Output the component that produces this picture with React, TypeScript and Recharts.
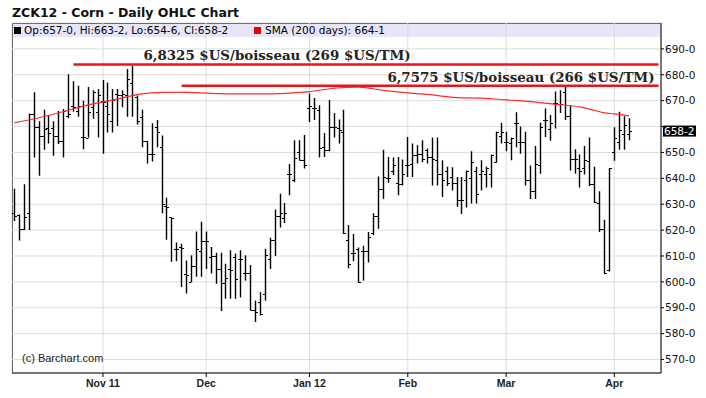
import React from 'react';
import { ComposedChart, Bar, Line, XAxis, YAxis, CartesianGrid, ReferenceLine } from 'recharts';

const SANS = '"Liberation Sans", Arial, sans-serif';
const WIDE = '"DejaVu Sans", Verdana, sans-serif';
const SERIF = '"DejaVu Serif", "Liberation Serif", serif';

// trading days shown on the axis (last six are empty days to the right edge)
const octDays = [6, 7, 10, 11, 12, 13, 14, 17, 18, 19, 20, 21, 24, 25, 26, 27, 28, 31];
const novDays = [1, 2, 3, 4, 7, 8, 9, 10, 11, 14, 15, 16, 17, 18, 21, 22, 23, 25, 28, 29, 30];
const decDays = [1, 2, 5, 6, 7, 8, 9, 12, 13, 14, 15, 16, 19, 20, 21, 22, 23, 27, 28, 29, 30];
const janDays = [3, 4, 5, 6, 9, 10, 11, 12, 13, 17, 18, 19, 20, 23, 24, 25, 26, 27, 30, 31];
const febDays = [1, 2, 3, 6, 7, 8, 9, 10, 13, 14, 15, 16, 17, 21, 22, 23, 24, 27, 28, 29];
const marDays = [1, 2, 5, 6, 7, 8, 9, 12, 13, 14, 15, 16, 19, 20, 21, 22, 23, 26, 27, 28, 29, 30];
const aprDays = [2, 3, 4, 5, 9, 10, 11, 12, 13, 16];

const pad = (n: number) => (n < 10 ? '0' + n : '' + n);
const dates: string[] = [
  ...octDays.map((d) => `2011-10-${pad(d)}`),
  ...novDays.map((d) => `2011-11-${pad(d)}`),
  ...decDays.map((d) => `2011-12-${pad(d)}`),
  ...janDays.map((d) => `2012-01-${pad(d)}`),
  ...febDays.map((d) => `2012-02-${pad(d)}`),
  ...marDays.map((d) => `2012-03-${pad(d)}`),
  ...aprDays.map((d) => `2012-04-${pad(d)}`),
];

const monthTicks = ['2011-11-01', '2011-12-01', '2012-01-03', '2012-02-01', '2012-03-01', '2012-04-02'];
const monthLabels = ['Nov 11', 'Dec', 'Jan 12', 'Feb', 'Mar', 'Apr'];
const yTicks = [570, 580, 590, 600, 610, 620, 630, 640, 650, 660, 670, 680, 690];

const opens = [626.75, 626, 620.25, 626.75, 665, 660, 656.5, 659.5, 659.5, 656.5,
  654.5, 664.25, 667.75, 666, 656, 655.75, 667.5, 665.5, 670, 668,
  662.25, 672.5, 672, 672, 677, 671.5, 663.5, 654.5, 649.5, 660,
  652, 629.25, 625, 612.75, 613.5, 603, 600, 606, 611.75, 615.75,
  609.5, 610, 605, 599.75, 605, 609.5, 609, 603.25, 603.25, 589.25,
  592.25, 595.5, 609, 616, 625.5, 624.75, 641.5, 639.5, 650, 647,
  667, 667, 666.5, 652, 651, 660, 659.25, 658, 616, 611,
  612.75, 612, 612, 618.75, 625.5, 636, 640.25, 643, 638.25, 638,
  645, 645.5, 649, 649.25, 651, 648.25, 647.25, 641.75, 643, 640.5,
  638.25, 631.5, 639.5, 640, 643, 641.5, 641.5, 641.5, 646.25, 656.25,
  654, 653.75, 661.25, 654, 654, 639.25, 635.25, 645, 662.5, 659,
  669.25, 668.75, 673.5, 664, 647.5, 644, 644, 646.75, 638, 630.5,
  620.5, 604.5, 650.25, 654, 657.25, 657];

const highs = [636, 626, 637.75, 665, 673.25, 662, 666.5, 664.5, 662, 666,
  666.75, 680.25, 677.5, 675.75, 670, 675.25, 674, 674.5, 678, 677,
  674.5, 674.5, 674, 682.25, 683.5, 672, 666.5, 654.5, 661.25, 662.5,
  656.5, 632.5, 625, 615.25, 614.75, 608.25, 610.25, 619.5, 623.25, 619.5,
  613.5, 611.25, 611.25, 607, 612.25, 611, 612.25, 610.25, 606.5, 592.75,
  596, 612.75, 617, 628, 634, 630.5, 645.5, 654.75, 654.75, 656.75,
  672.75, 671, 668.25, 657.5, 670.25, 665.25, 662.75, 666.5, 622, 618.5,
  613.25, 614, 619.25, 626.5, 640.75, 651, 648.25, 648, 648.25, 647.25,
  656, 653.5, 652.75, 654.75, 651.5, 655.75, 655.75, 647, 644.5, 644.25,
  640.5, 640.5, 643, 650.5, 644.5, 647, 644.5, 649.25, 658, 661.5,
  658, 655.75, 665.5, 660, 658, 645, 652.5, 661.5, 667, 664.5,
  673.5, 674, 675.75, 668.25, 651.25, 649.25, 652.5, 655.75, 644.5, 635,
  624, 644, 659.75, 665.75, 664, 663.25];

const lows = [623.5, 616, 620, 620, 648, 641, 651, 653.5, 648.75, 653.25,
  648, 663.25, 665.75, 663.75, 651.25, 655.75, 663, 655.75, 649.5, 657.75,
  657.75, 660.25, 667.5, 663.75, 663.75, 660.75, 652, 645.75, 646.5, 652,
  626.5, 616.25, 607.75, 608, 598, 595.5, 600, 602, 602, 605,
  603.25, 599.25, 588.75, 593.5, 593.5, 593.5, 594, 600.5, 589, 584.5,
  587, 592.75, 605, 610, 621, 622.75, 633.5, 638.5, 647, 643.75,
  661.75, 662.5, 648, 648.25, 650.5, 655.75, 653.5, 618.5, 605.25, 608,
  599.75, 600.5, 607.5, 618, 620.5, 632, 638.25, 641.25, 633.5, 637.25,
  640.5, 640.5, 645.75, 646.25, 645.75, 637.25, 637.25, 632.75, 637, 635.25,
  629, 626.25, 628.75, 630.25, 630.25, 635.25, 636.5, 636.5, 646, 653.5,
  650.5, 647, 652, 649.5, 637.25, 632, 632, 641.75, 656, 654.5,
  659.25, 665.25, 662.5, 643, 641.75, 636.5, 641.5, 637, 630.5, 619.25,
  603, 604, 646.75, 651, 651, 654.75];

const closes = [625.5, 620.25, 625, 665, 660, 656.5, 659, 657.5, 656.5, 654.5,
  666, 665, 667.5, 668, 656, 665.5, 673.25, 672, 669.5, 664.75,
  670.25, 672, 672.5, 678.5, 672, 662.25, 654.5, 649.5, 649.5, 657.75,
  630.25, 629, 624.75, 612.75, 613.25, 602.5, 606, 612.75, 615.75, 615.75,
  610, 605, 599.75, 601.5, 604.75, 601.25, 609, 603.5, 589.25, 588.25,
  587.75, 610.25, 616, 625.5, 626.5, 626.5, 641.5, 648, 647.25, 645.25,
  667.75, 667, 651.75, 651, 660, 660, 658.5, 618.75, 607, 611,
  600, 612, 617.25, 625.5, 636, 640.5, 640, 645, 638, 641.75,
  645, 649, 649.25, 647.5, 648.25, 647.5, 641.75, 639.25, 638.25, 638.25,
  631.5, 631.5, 642.75, 646.25, 634, 643, 644, 649, 657.75, 658,
  654, 655.75, 661.25, 654, 639.25, 635.25, 645.5, 660, 662.5, 661.25,
  669.25, 668.75, 664, 647.5, 647.5, 643, 647, 638, 630.75, 620.5,
  603.5, 644, 655.5, 658.5, 660.5, 658.25];

// 200-day SMA at these bars
const smaIndex = [0, 5, 10, 15, 20, 25, 30, 35, 40, 45, 50, 55, 60, 65, 70, 75, 80, 85, 90, 95, 100, 105, 110, 115, 118, 120, 122, 125];
const smaValues = [661.5, 663.4, 665.8, 668.4, 670.2, 672.3, 673.2, 673.2, 672.8, 672.6, 672.6, 672.8, 673.5, 674.8, 675.2, 674, 673, 672.2, 671.2, 671, 670.3, 669.6, 668.6, 667.6, 666.2, 665.3, 664.9, 664.125];

const levelHigh = 684;
const levelLow = 675.75;
const levelHighText = '6,8325 $US/boisseau (269 $US/TM)';
const levelLowText = '6,7575 $US/boisseau (266 $US/TM)';

const rows = dates.map((date, i) => {
  const has = i < opens.length;
  const k = smaIndex.indexOf(i);
  return {
    date,
    range: has ? [lows[i], highs[i]] : null,
    open: has ? opens[i] : null,
    high: has ? highs[i] : null,
    low: has ? lows[i] : null,
    close: has ? closes[i] : null,
    sma: k >= 0 ? smaValues[k] : null,
  };
});

const fmt = (v: number) => `${Math.floor(v)}-${Math.round((v - Math.floor(v)) * 8)}`;
const last = opens.length - 1;
const lastClose = closes[last];

const renderOhlc = (props: any) => {
  const { x, y, width, height, payload } = props;
  if (!payload || payload.high == null) return <g />;
  const top = Math.min(y, y + height);
  const h = Math.abs(height);
  const span = payload.high - payload.low;
  const toY = (v: number) => (span === 0 ? top : top + ((payload.high - v) / span) * h);
  const cx = Math.round(x + width / 2) + 0.5;
  const oy = Math.round(toY(payload.open)) + 0.5;
  const cy = Math.round(toY(payload.close)) + 0.5;
  return (
    <g>
      <line x1={cx} x2={cx} y1={top} y2={top + Math.max(h, 1)} stroke="#000" strokeWidth={1.4} />
      <line x1={cx - 2.5} x2={cx} y1={oy} y2={oy} stroke="#000" strokeWidth={1} />
      <line x1={cx} x2={cx + 2.5} y1={cy} y2={cy} stroke="#000" strokeWidth={1} />
    </g>
  );
};

const LevelLabel = (props: any) => {
  const { viewBox, text, dx, anchor } = props;
  if (!viewBox) return null;
  const x = anchor === 'end' ? viewBox.x + viewBox.width + dx : viewBox.x + dx;
  return (
    <text x={x} y={viewBox.y - 4} textAnchor={anchor} fontFamily={SERIF} fontWeight="bold" fontSize={13.4} fill="#222">
      {text}
    </text>
  );
};

const PriceTag = (props: any) => {
  const { viewBox, text } = props;
  if (!viewBox) return null;
  const x = viewBox.x + viewBox.width + 2;
  return (
    <g>
      <rect x={x} y={viewBox.y - 5.5} width={33} height={11} fill="#000" />
      <text x={x + 1} y={viewBox.y + 4} fontFamily={WIDE} fontSize={10.5} fill="#fff">{text}</text>
    </g>
  );
};

export default function App() {
  return (
    <div style={{ position: 'absolute', left: 0, top: 0, width: 706, height: 398, background: '#fff' }}>
      <div style={{ position: 'absolute', left: 12, top: 5, fontFamily: WIDE, fontWeight: 'bold', fontSize: 12.5, color: '#111', whiteSpace: 'nowrap' }}>
        ZCK12 - Corn - Daily OHLC Chart
      </div>
      <div style={{ position: 'absolute', left: 12, top: 23, width: 649, height: 350, borderLeft: '1px solid #000', borderTop: '1px solid #000', boxSizing: 'border-box' }}>
        <div style={{ height: 13, background: '#e6e6f8' }} />
      </div>
      <div style={{ position: 'absolute', left: 0, top: 0 }}>
        <ComposedChart width={706} height={398} data={rows} margin={{ top: 23, right: 0, bottom: 0, left: 12 }} barCategoryGap={0}>
          <CartesianGrid stroke="#dcdcdc" />
          <XAxis
            dataKey="date"
            ticks={monthTicks}
            interval={0}
            height={25}
            tickSize={4}
            tickMargin={3}
            axisLine={{ stroke: '#000' }}
            tickLine={{ stroke: '#000' }}
            tickFormatter={(d: string) => monthLabels[monthTicks.indexOf(d)] ?? ''}
            tick={{ fill: '#222', fontSize: 10.5, fontWeight: 'bold', fontFamily: SANS }}
          />
          <YAxis
            orientation="right"
            domain={[564.8, 700]}
            ticks={yTicks}
            width={45}
            tickSize={3}
            tickMargin={1}
            allowDataOverflow
            axisLine={{ stroke: '#000' }}
            tickLine={{ stroke: '#000' }}
            tickFormatter={(v: number) => (Math.abs(v - lastClose) < 4 ? '' : fmt(v))}
            tick={{ fill: '#111', fontSize: 10.5, fontFamily: WIDE, textAnchor: 'start' }}
          />
          <Bar dataKey="range" shape={renderOhlc} barSize={4} isAnimationActive={false} />
          <Line dataKey="sma" type="monotone" stroke="#ff2a2a" strokeWidth={1.2} dot={false} connectNulls isAnimationActive={false} />
          <ReferenceLine
            segment={[{ x: dates[12], y: levelHigh }, { x: dates[dates.length - 1], y: levelHigh }]}
            stroke="#e8141a"
            strokeWidth={2.5}
            label={<LevelLabel text={levelHighText} dx={70} anchor="start" />}
          />
          <ReferenceLine
            segment={[{ x: dates[34], y: levelLow }, { x: dates[dates.length - 1], y: levelLow }]}
            stroke="#e8141a"
            strokeWidth={2.5}
            label={<LevelLabel text={levelLowText} dx={-4} anchor="end" />}
          />
          <ReferenceLine y={lastClose} stroke="none" label={<PriceTag text={fmt(lastClose)} />} />
        </ComposedChart>
      </div>
      <div style={{ position: 'absolute', left: 14, top: 27, width: 7, height: 7, background: '#000' }} />
      <div style={{ position: 'absolute', left: 24, top: 24, fontFamily: WIDE, fontSize: 10.5, color: '#000', whiteSpace: 'nowrap', lineHeight: '12px' }}>
        {`Op:${fmt(opens[last])}, Hi:${fmt(highs[last])}, Lo:${fmt(lows[last])}, Cl:${fmt(closes[last])}`}
      </div>
      <div style={{ position: 'absolute', left: 254, top: 27, width: 7, height: 7, background: '#e00' }} />
      <div style={{ position: 'absolute', left: 265, top: 24, fontFamily: WIDE, fontSize: 10.5, color: '#000', whiteSpace: 'nowrap', lineHeight: '12px' }}>
        {`SMA (200 days): ${fmt(smaValues[smaValues.length - 1])}`}
      </div>
      <div style={{ position: 'absolute', left: 22, top: 352, fontFamily: '"Liberation Sans Narrow", "Liberation Sans", sans-serif', fontSize: 11, color: '#222' }}>
        (c) Barchart.com
      </div>
    </div>
  );
}
